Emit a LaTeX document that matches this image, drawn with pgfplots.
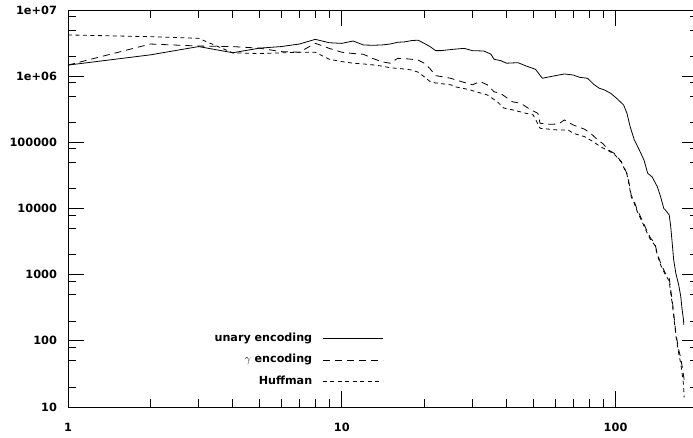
\documentclass[border=0pt]{standalone}
\usepackage{fontspec}
\setmainfont{DejaVu Sans}
\usepackage{pgfplots}
\pgfplotsset{compat=1.18}
\begin{document}
\begin{tikzpicture}
\begin{axis}[
  scale only axis, width=630bp, height=397bp,
  xmode=log, ymode=log, xmin=1, xmax=200, ymin=10, ymax=1e7,
  xtick={1,10,100}, xticklabels={1,10,100},
  minor xtick={2,3,4,5,6,7,8,9,20,30,40,50,60,70,80,90},
  ytick={10,100,1000,10000,100000,1000000,10000000},
  yticklabels={10,100,1000,10000,100000,1e+06,1e+07},
  minor ytick={20,50,80,200,500,800,2000,5000,8000,20000,50000,80000,200000,500000,800000,2000000,5000000,8000000},
  major tick length=16.5bp, minor tick length=8.3bp,
  tick align=inside,
  every tick/.style={black, line width=0.7bp},
  axis line style={line width=0.8bp},
  tick label style={font=\fontsize{11.4}{13}\selectfont\bfseries},
  xticklabel style={yshift=-13bp},
  yticklabel style={xshift=-7.5bp},
  legend plot pos=right,
  legend cell align=right,
  legend style={at={(0.5,0.0516)}, anchor=south east, draw=none, fill=none,
    inner sep=0pt, outer sep=0pt, column sep=10bp, row sep=10.7bp,
    font=\fontsize{11.2}{13}\selectfont\bfseries,
    nodes={inner sep=0pt, text height=8bp, text depth=2.5bp}},
  legend image code/.code={\draw[#1] (0bp,0bp) -- (60bp,0bp);},
]
\addplot[black, line width=0.8bp] coordinates {
(1,1.47e6)(2,2.1e6)(3,2.8e6)(4,2.26e6)(5,2.65e6)(6,2.8e6)(7,3.06e6)(8,3.6e6)(9,3.2e6)(10,3.13e6)
(11,3.4e6)(12,2.96e6)(13,2.93e6)(14,2.96e6)(15,3.06e6)(16,3.25e6)(17,3.3e6)(18,3.45e6)(19,3.5e6)(20,3.13e6)
(21,2.8e6)(22,2.43e6)(23,2.43e6)(25.6,2.55e6)(28,2.63e6)(30,2.43e6)(33,2.4e6)(35,2.16e6)(36,1.8e6)(38,1.72e6)
(40,1.57e6)(44,1.6e6)(47,1.43e6)(51,1.27e6)(54,9.3e5)(59,1.0e6)(65,1.08e6)(70,1.04e6)(74,9.6e5)(79,9.3e5)
(83,7.6e5)(87,6.6e5)(91,6.2e5)(96,5.5e5)(101,4.6e5)(107,3.67e5)(110,2.75e5)(113,1.73e5)(117,1.09e5)(122,7.7e4)
(127,5.4e4)(131,3.4e4)(136,3.0e4)(142,2.14e4)(146,1.51e4)(150,1.0e4)(152,9.5e3)(157,8.0e3)(159,5.3e3)(161,3.0e3)
(163,1.67e3)(166,1.05e3)(170,700)(173,468)(175,295)(177,209)(177.5,175)
};
\addlegendentry{unary encoding}
\addplot[black, line width=0.8bp, dash pattern=on 7bp off 5bp] coordinates {
(1,1.47e6)(2,3.06e6)(3,2.85e6)(4,2.8e6)(5,2.65e6)(6,2.35e6)(7,2.3e6)(8,3.14e6)(9,2.63e6)(10,2.3e6)
(11,2.2e6)(12,2.14e6)(13,1.85e6)(14,1.65e6)(15,1.57e6)(16,1.86e6)(17,1.84e6)(18,1.8e6)(19,1.75e6)(20,1.57e6)
(21,1.3e6)(22,1.02e6)(25,9.3e5)(26,8.8e5)(30,7.4e5)(32,8.3e5)(34,7.4e5)(36,5.8e5)(38,5.5e5)(42,4.1e5)
(45,3.9e5)(49,3.1e5)(52,2.75e5)(53,1.94e5)(58,1.87e5)(62,1.9e5)(65,2.18e5)(70,1.83e5)(77,1.58e5)(81,1.37e5)
(86,1.09e5)(90,9.5e4)(94,7.7e4)(99,6.8e4)(105,5.1e4)(107,4.3e4)(110,3.4e4)(112,2.4e4)(114,1.6e4)(117,1.27e4)
(120,9.5e3)(125,6.7e3)(129,5.0e3)(134,3.6e3)(139,3.0e3)(142,2.1e3)(146,1.5e3)(152,1.05e3)(157,885)(159,590)
(161,415)(163,263)(166,131)(170,73)(173,55)(175,41)(178,26)
};
\addlegendentry{$\gamma$ encoding}
\addplot[black, line width=0.8bp, dash pattern=on 4bp off 3.5bp] coordinates {
(1,4.2e6)(2,3.95e6)(3,3.73e6)(4,2.25e6)(5,2.2e6)(6,2.25e6)(7,2.3e6)(8,2.3e6)(9,1.8e6)(10,1.66e6)
(11,1.57e6)(12,1.53e6)(13,1.48e6)(14,1.42e6)(15,1.34e6)(16,1.31e6)(17,1.28e6)(18,1.24e6)(19,1.15e6)(20,9.8e5)
(21,8.3e5)(22,7.9e5)(25,7.4e5)(26,6.9e5)(29,6.3e5)(31,5.8e5)(34,5.2e5)(37,4.1e5)(39,3.3e5)(42,3.1e5)
(47,2.75e5)(50,2.6e5)(53,1.63e5)(61,1.54e5)(67,1.54e5)(70,1.37e5)(77,1.22e5)(83,1.02e5)(88,8.6e4)(94,7.5e4)
(99,6.6e4)(105,5.0e4)(107,4.2e4)(110,3.3e4)(112,2.3e4)(114,1.5e4)(117,1.2e4)(120,9.0e3)(125,6.3e3)(129,4.7e3)
(134,3.4e3)(139,2.8e3)(142,2.0e3)(146,1.4e3)(152,1.0e3)(157,800)(159,520)(161,370)(163,240)(166,120)
(170,65)(173,45)(175,32)(177,22)(178,14)
};
\addlegendentry{Huffman}
\end{axis}
\pgfresetboundingbox
\path[use as bounding box] ([shift={(-68bp,-31bp)}]current axis.south west) rectangle ([shift={(-5bp,10bp)}]current axis.north east);
\end{tikzpicture}
\end{document}
